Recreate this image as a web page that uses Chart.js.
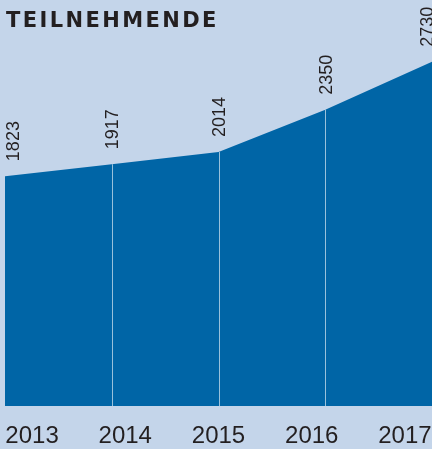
<!DOCTYPE html>
<html lang="de">
<head>
    <meta charset="UTF-8">
    <title>Teilnehmende</title>
    <style>
        body {
            margin: 0;
            padding: 0;
            background-color: #c4d5ea; /* hellblau */
        }

        #wrap {
            position: relative;
            width: 432px;
            height: 449px;
        }

        #titel {
            position: absolute;
            left: 6px;
            top: 10px;
            margin: 0;
            font-family: "DejaVu Sans", sans-serif;
            font-weight: bold;
            font-size: 21px;
            line-height: 21px;
            letter-spacing: 2.4px;
            color: #231f20;
        }
    </style>
    <script src="https://cdn.jsdelivr.net/npm/chart.js"></script>
</head>
<body>
    <div id="wrap">
        <canvas id="chartTeilnehmende" width="432" height="449"></canvas>
        <h1 id="titel">TEILNEHMENDE</h1>
    </div>

    <script>
        // Daten
        const jahre = ['2013', '2014', '2015', '2016', '2017'];
        const teilnehmende = [1823, 1917, 2014, 2350, 2730];

        const dunkelblau = '#0065a6';
        const textFarbe = '#231f20';

        // weiße Trennlinien unter den Punkten
        const trennlinien = {
            id: 'trennlinien',
            afterDatasetsDraw(chart) {
                const ctx = chart.ctx;
                const meta = chart.getDatasetMeta(0);
                const unten = chart.chartArea.bottom;
                ctx.save();
                ctx.strokeStyle = 'rgba(255, 255, 255, 0.6)';
                ctx.lineWidth = 1;
                for (let i = 1; i < meta.data.length - 1; i++) {
                    const p = meta.data[i];
                    const x = Math.round(p.x) + 0.5;
                    ctx.beginPath();
                    ctx.moveTo(x, p.y);
                    ctx.lineTo(x, unten);
                    ctx.stroke();
                }
                ctx.restore();
            }
        };

        // gedrehte Werte über den Punkten
        const werteLabels = {
            id: 'werteLabels',
            afterDatasetsDraw(chart) {
                const ctx = chart.ctx;
                const meta = chart.getDatasetMeta(0);
                const area = chart.chartArea;
                const capH = 13;
                ctx.save();
                ctx.font = '18px "Liberation Sans", Arial, sans-serif';
                ctx.fillStyle = textFarbe;
                ctx.textAlign = 'left';
                ctx.textBaseline = 'alphabetic';
                meta.data.forEach((p, i) => {
                    let x = Math.min(Math.max(p.x, area.left + 7), area.right - 6);
                    ctx.save();
                    ctx.translate(x + capH / 2, p.y - 15);
                    ctx.rotate(-Math.PI / 2);
                    ctx.fillText(String(teilnehmende[i]), 0, 0);
                    ctx.restore();
                });
                ctx.restore();
            }
        };

        const ctx = document.getElementById('chartTeilnehmende').getContext('2d');
        new Chart(ctx, {
            type: 'line',
            data: {
                labels: jahre,
                datasets: [{
                    label: 'Teilnehmende',
                    data: teilnehmende,
                    xAxisID: 'x',
                    yAxisID: 'y',
                    fill: 'origin',
                    backgroundColor: dunkelblau,
                    borderWidth: 0,
                    pointRadius: 0,
                    tension: 0
                }]
            },
            options: {
                responsive: false,
                animation: false,
                layout: {
                    padding: { left: 5, right: 0, top: 0, bottom: 0 }
                },
                plugins: {
                    legend: { display: false },
                    tooltip: { enabled: false },
                    title: { display: false }
                },
                scales: {
                    x: {
                        type: 'category',
                        offset: false,
                        display: false
                    },
                    x2: {
                        type: 'linear',
                        position: 'bottom',
                        min: -0.29,
                        max: 4.29,
                        grid: { display: false, drawTicks: false },
                        border: { display: false },
                        afterBuildTicks: axis => {
                            axis.ticks = jahre.map((_, i) => ({ value: i }));
                        },
                        afterFit: axis => {
                            axis.height = 43;
                            axis.paddingLeft = 0;
                            axis.paddingRight = 0;
                        },
                        ticks: {
                            autoSkip: false,
                            maxRotation: 0,
                            padding: 16,
                            color: textFarbe,
                            font: { family: '"Liberation Sans", Arial, sans-serif', size: 24 },
                            callback: v => jahre[v]
                        }
                    },
                    y: {
                        display: false,
                        min: 0,
                        max: 3220
                    }
                }
            },
            plugins: [trennlinien, werteLabels]
        });
    </script>
</body>
</html>
